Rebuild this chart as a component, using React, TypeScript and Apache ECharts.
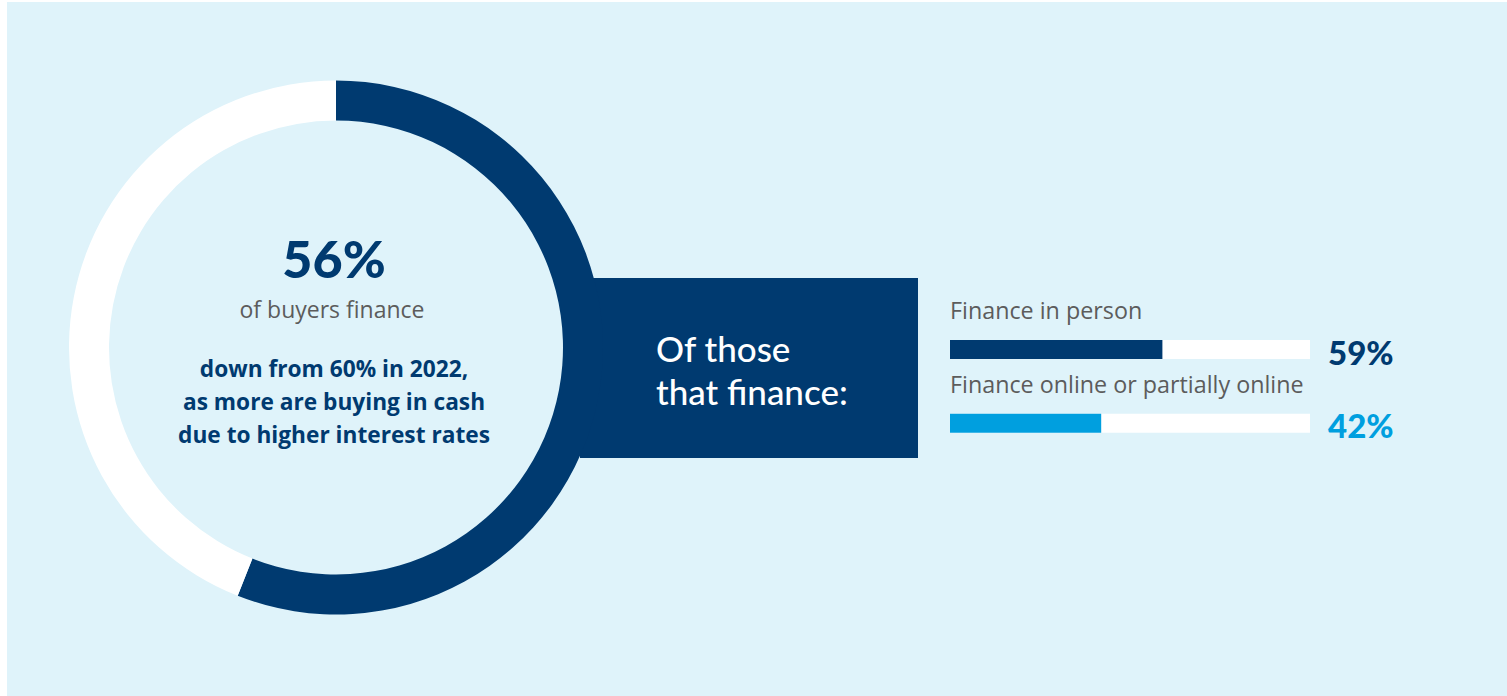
import React, { useEffect, useRef } from "react";
import * as echarts from "echarts";

// Share of buyers who finance vs. pay cash
const buyerShareNames = ["Finance", "Cash"];
const buyerShareValues = [56, 44];

// Notes under the headline figure
const headlineCaption = "of buyers finance";
const headlineNotes = [
  "down from 60% in 2022,",
  "as more are buying in cash",
  "due to higher interest rates",
];

// Callout box text
const calloutLines = ["Of those", "that finance:"];

// How the financing buyers financed
const methodNames = ["Finance in person", "Finance online or partially online"];
const methodValues = [59, 42];
const methodTrack = [100, 100];

const NAVY = "#003a70";
const SKY = "#009fdf";
const GREY = "#5c5c5c";
const PANEL = "#dff3fa";
const FONT = "Lato, 'Noto Sans', sans-serif";
const BODY = "'Open Sans', 'Noto Sans', sans-serif";

export default function App() {
  const ref = useRef<HTMLDivElement>(null);

  useEffect(() => {
    if (!ref.current) return;
    const chart = echarts.init(ref.current, undefined, { renderer: "svg" });
    const methodColors = [NAVY, SKY];

    const option: echarts.EChartsOption = {
      animation: false,
      backgroundColor: "#ffffff",
      textStyle: { fontFamily: FONT },
      graphic: [
        {
          type: "rect",
          z: 0,
          shape: { x: 7, y: 2, width: 1500, height: 694 },
          style: { fill: PANEL },
          silent: true,
        },
        {
          type: "rect",
          z: 1,
          shape: { x: 580, y: 278, width: 338, height: 180 },
          style: { fill: NAVY },
          silent: true,
        },
        ...calloutLines.map((line, i) => ({
          type: "text" as const,
          z: 5,
          x: 656,
          y: 348 + i * 43,
          style: {
            text: line,
            fill: "#ffffff",
            font: `500 35px ${FONT}`,
            verticalAlign: "middle" as const,
          },
          silent: true,
        })),
        {
          type: "text",
          z: 5,
          x: 334,
          y: 258,
          style: {
            text: `${buyerShareValues[0]}%`,
            fill: NAVY,
            font: `900 52px ${FONT}`,
            align: "center",
            verticalAlign: "middle",
          },
          silent: true,
        },
        {
          type: "text",
          z: 5,
          x: 332,
          y: 309,
          style: {
            text: headlineCaption,
            fill: GREY,
            font: `400 23px ${BODY}`,
            align: "center",
            verticalAlign: "middle",
          },
          silent: true,
        },
        ...headlineNotes.map((line, i) => ({
          type: "text" as const,
          z: 5,
          x: 334,
          y: 368 + i * 33,
          style: {
            text: line,
            fill: NAVY,
            font: `700 22.7px ${BODY}`,
            align: "center" as const,
            verticalAlign: "middle" as const,
          },
          silent: true,
        })),
      ],
      grid: {
        left: 950,
        top: 312.6,
        width: 360,
        height: 147.6,
        containLabel: false,
      },
      xAxis: { type: "value", min: 0, max: 100, show: false },
      yAxis: {
        type: "category",
        data: methodNames,
        inverse: true,
        show: false,
      },
      series: [
        {
          type: "pie",
          z: 3,
          center: [336, 347.5],
          radius: [227, 267],
          startAngle: 90,
          clockwise: true,
          silent: true,
          label: { show: false },
          labelLine: { show: false },
          itemStyle: { borderWidth: 0 },
          data: buyerShareNames.map((name, i) => ({
            name,
            value: buyerShareValues[i],
            itemStyle: { color: i === 0 ? NAVY : "#ffffff" },
          })),
        },
        {
          type: "bar",
          name: "track",
          barWidth: 19,
          barGap: "-100%",
          silent: true,
          itemStyle: { color: "#ffffff" },
          label: {
            show: true,
            position: [0, -18],
            align: "left",
            verticalAlign: "bottom",
            color: GREY,
            fontSize: 23.3,
            fontFamily: BODY,
            lineHeight: 24,
            formatter: (p: any) => methodNames[p.dataIndex],
          },
          data: methodTrack,
        },
        {
          type: "bar",
          name: "share",
          barWidth: 19,
          barGap: "-100%",
          silent: true,
          data: methodValues.map((v, i) => ({
            value: v,
            itemStyle: { color: methodColors[i] },
          })),
        },
        {
          type: "bar",
          name: "value",
          barWidth: 19,
          barGap: "-100%",
          silent: true,
          itemStyle: { color: "rgba(0,0,0,0)" },
          data: methodTrack.map((v, i) => ({
            value: v,
            label: {
              show: true,
              position: "right",
              distance: 18,
              offset: [0, 2],
              color: methodColors[i],
              fontSize: 33,
              fontWeight: 900,
              fontFamily: FONT,
              formatter: () => `${methodValues[i]}%`,
            },
          })),
        },
      ],
    };

    chart.setOption(option);
    return () => chart.dispose();
  }, []);

  return (
    <div
      ref={ref}
      style={{ position: "fixed", left: 0, top: 0, width: 1507, height: 696 }}
    />
  );
}
